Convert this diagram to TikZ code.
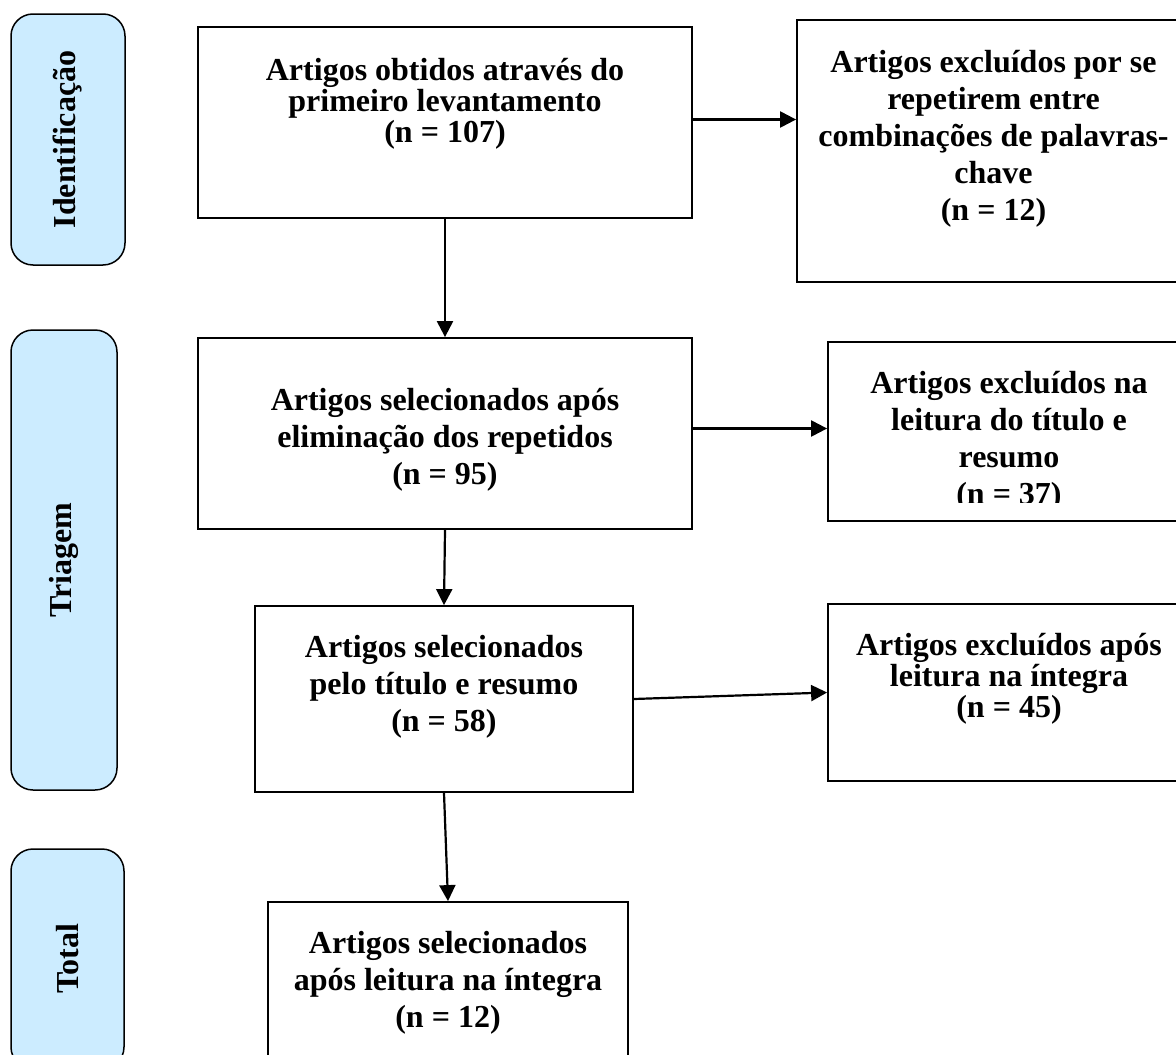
\documentclass[tikz,border=0pt]{standalone}
\usepackage{fontspec}
\setmainfont{Liberation Serif}
\usetikzlibrary{positioning,arrows.meta}

\definecolor{tabblue}{RGB}{204,236,255}

\begin{document}
\begin{tikzpicture}[
    x=1pt, y=-1pt,
    box/.style={rectangle, draw, line width=1.8pt},
    phase/.style={rectangle, draw, line width=1.5pt, rounded corners=22pt, fill=tabblue},
    txt/.style={font=\bfseries\fontsize{32}{37}\selectfont, align=center, inner sep=0pt},
    tight/.style={font=\bfseries\fontsize{32}{31}\selectfont},
    arr/.style={line width=2.2pt, -{Triangle[length=16pt,width=16pt]}}
]
\clip (0,0) rectangle (1176,1055);

% Left side: phases
\node[phase, minimum width=114pt, minimum height=251pt] (fase1) at (68,139.5) {};
\node[txt, rotate=90] (fase1t) at (fase1.center) {Identificação};
\node[phase, minimum width=106pt, minimum height=460pt] (fase2) at (64,560) {};
\node[txt, rotate=90] (fase2t) at (fase2.center) {Triagem};
\node[phase, minimum width=113pt, minimum height=220pt] (fase3) at (67.5,959) {};
\node[txt, rotate=90] (fase3t) at (fase3.center) {Total};

% Main column
\node[box, minimum width=494pt, minimum height=191pt] (b1) at (445,122.5) {};
\node[txt, tight, below=31.6pt of b1.north] (b1t) {Artigos obtidos através do\\primeiro levantamento\\(n = 107)};

\node[box, minimum width=494pt, minimum height=191pt] (b3) at (445,433.5) {};
\node[txt, below=50.6pt of b3.north] (b3t) {Artigos selecionados após\\eliminação dos repetidos\\(n = 95)};

\node[box, minimum width=378pt, minimum height=186pt] (b5) at (444,699) {};
\node[txt, below=29.6pt of b5.north] (b5t) {Artigos selecionados\\pelo título e resumo\\(n = 58)};

\node[box, minimum width=360pt, minimum height=198pt] (b7) at (448,1001) {};
\node[txt, below=29.6pt of b7.north] (b7t) {Artigos selecionados\\após leitura na íntegra\\(n = 12)};

% Right column: excluded
\node[box, minimum width=393pt, minimum height=262pt] (b2) at (993.5,151) {};
\node[txt, below=30.6pt of b2.north] (b2t) {Artigos excluídos por se\\repetirem entre\\combinações de palavras-\\chave\\(n = 12)};

\node[box, minimum width=362pt, minimum height=179pt] (b4) at (1009,431.5) {};
\begin{scope}
    \clip (b4.north west) rectangle ([yshift=19pt]b4.south east);
    \node[txt, below=29.6pt of b4.north] (b4t) {Artigos excluídos na\\leitura do título e\\resumo\\(n = 37)};
\end{scope}

\node[box, minimum width=362pt, minimum height=177pt] (b6) at (1009,692.5) {};
\node[txt, tight, below=29.6pt of b6.north] (b6t) {Artigos excluídos após\\leitura na íntegra\\(n = 45)};

% Arrows
\draw[arr] (b1) -- (b3);
\draw[arr] (b3.south) -- (b5.north);
\draw[arr] (b5.south) -- (b7.north);
\draw[arr] ([yshift=3pt]b1.east) -- ([yshift=3pt]b1.east -| b2.west);
\draw[arr] ([yshift=5pt]b3.east) -- ([yshift=5pt]b3.east -| b4.west);
\draw[arr] (b5.east) -- (b6.west);

\end{tikzpicture}
\end{document}
